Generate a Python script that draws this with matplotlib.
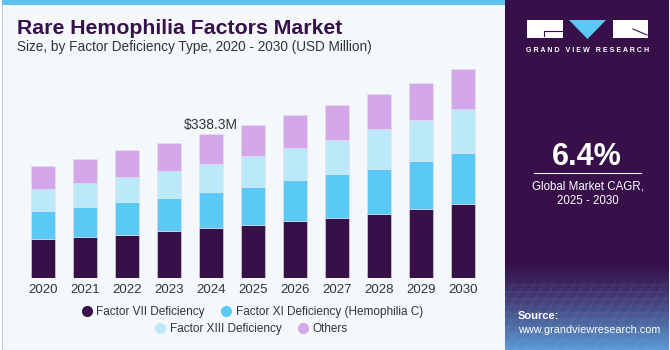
import matplotlib.pyplot as plt
import numpy as np
from matplotlib.patches import Rectangle, Polygon
from matplotlib.lines import Line2D

years = ['2020', '2021', '2022', '2023', '2024', '2025', '2026', '2027', '2028', '2029', '2030']
factor_vii = [91.4, 96.8, 102.2, 110.2, 117.2, 124.9, 133.6, 141.3, 150.0, 162.4, 173.5]
factor_xi = [67.0, 70.3, 76.6, 78.8, 85.1, 89.8, 96.8, 102.4, 106.9, 113.2, 120.2]
factor_xiii = [50.2, 57.0, 57.9, 61.9, 65.6, 72.7, 75.0, 81.1, 92.4, 95.4, 102.4]
others = [55.3, 56.3, 64.0, 65.6, 70.4, 71.3, 77.4, 80.6, 82.7, 87.4, 93.8]
series_names = ['Factor VII Deficiency', 'Factor XI Deficiency (Hemophilia C)',
                'Factor XIII Deficiency', 'Others']
colors = ['#37104a', '#5bc9f6', '#bce9f9', '#d4a7eb']
label_year = '2024'
label_text = '$338.3M'

bg = '#f4f8fb'
dark = '#37104a'
font = 'Liberation Sans'

fig = plt.figure(figsize=(6.7, 3.5), dpi=100)
fig.patch.set_facecolor('white')

# left panel background + top strip (drawn under the axes)
fig.patches.append(Rectangle((2 / 670, 0), 503 / 670, 1, transform=fig.transFigure,
                             facecolor=bg, edgecolor='#c8ccd0', lw=0.8, zorder=-2))
fig.patches.append(Rectangle((2 / 670, 1 - 5 / 350), 503 / 670, 5 / 350, transform=fig.transFigure,
                             facecolor='#5bc3ee', edgecolor='none', zorder=-1))

# right panel with gradient at the bottom
pax = fig.add_axes([505 / 670, 0, 163 / 670, 1])
grad = np.ones((350, 1, 3))
top_c = np.array([0x37, 0x10, 0x4a]) / 255
bot_c = np.array([0x5a, 0x9c, 0xd6]) / 255
for i in range(350):
    t = max(0, (i - 260) / 90)
    grad[i, 0] = top_c * (1 - t ** 1.3) + bot_c * t ** 1.3
pax.imshow(grad, aspect='auto', extent=[0, 163, 350, 0])
for k in range(-20, 30):
    pax.plot([k * 10, k * 10 + 40], [350, 282], color='white', lw=0.3, alpha=0.15)
for yy in range(285, 350, 7):
    pax.plot([0, 163], [yy, yy], color='white', lw=0.3, alpha=0.15)
pax.set_xlim(0, 163)
pax.set_ylim(350, 0)
pax.axis('off')

# logo
def px(x, y):
    return (x / 670, 1 - y / 350)

fig.patches.append(Rectangle(px(527, 38), 36 / 670, 18 / 350, transform=fig.transFigure,
                             facecolor='white', edgecolor='none', zorder=5))
fig.patches.append(Rectangle(px(613, 38), 35 / 670, 18 / 350, transform=fig.transFigure,
                             facecolor='white', edgecolor='none', zorder=5))
fig.patches.append(Polygon([px(569, 20), px(606, 20), px(587.5, 39)], closed=True,
                           transform=fig.transFigure, facecolor='#5bc9f6', edgecolor='none', zorder=5))
fig.lines.append(Line2D([544 / 670, 563 / 670], [1 - 31 / 350, 1 - 31 / 350], transform=fig.transFigure,
                        color=dark, lw=0.8, zorder=6))
fig.lines.append(Line2D([544 / 670, 544 / 670], [1 - 31 / 350, 1 - 36 / 350], transform=fig.transFigure,
                        color=dark, lw=0.8, zorder=6))
fig.lines.append(Line2D([633 / 670, 647 / 670], [1 - 29 / 350, 1 - 35 / 350], transform=fig.transFigure,
                        color=dark, lw=0.8, zorder=6))
fig.text(587.5 / 670, 1 - 51 / 350, 'G R A N D   V I E W   R E S E A R C H', color='white', fontsize=5.1,
         fontweight='bold', ha='center', va='center', family=font)

fig.text(587 / 670, 1 - 157 / 350, '6.4%', color='white', fontsize=22, fontweight='bold',
         ha='center', va='center', family=font)
fig.lines.append(Line2D([534 / 670, 641 / 670], [1 - 173 / 350, 1 - 173 / 350], transform=fig.transFigure,
                        color='white', lw=0.8, zorder=6))
fig.text(587.5 / 670, 1 - 186 / 350, 'Global Market CAGR,', color='white', fontsize=8.3,
         ha='center', va='center', family=font)
fig.text(587.5 / 670, 1 - 201 / 350, '2025 - 2030', color='white', fontsize=8.3,
         ha='center', va='center', family=font)
fig.text(518 / 670, 1 - 316 / 350, 'Source:', color='white', fontsize=8, fontweight='bold',
         ha='left', va='center', family=font)
fig.text(518 / 670, 1 - 330 / 350, 'www.grandviewresearch.com', color='white', fontsize=7.8,
         ha='left', va='center', family=font)

# titles
fig.text(17 / 670, 1 - 28 / 350, 'Rare Hemophilia Factors Market', color=dark, fontsize=15.3,
         fontweight='bold', ha='left', va='center', family=font)
fig.text(17 / 670, 1 - 47 / 350, 'Size, by Factor Deficiency Type, 2020 - 2030 (USD Million)',
         color='#333333', fontsize=9.8, ha='left', va='center', family=font)

# bar chart
ax = fig.add_axes([22 / 670, 71.7 / 350, 462 / 670, 217.6 / 350])
ax.set_facecolor('none')
x = np.arange(len(years))
bottom = np.zeros(len(years))
for name, vals, c in zip(series_names, [factor_vii, factor_xi, factor_xiii, others], colors):
    ax.bar(x, vals, width=0.58, bottom=bottom, color=c, edgecolor='#e6e0ea',
           linewidth=0.4, label=name)
    bottom += np.array(vals)

i = years.index(label_year)
ax.text(x[i], bottom[i] + 20, label_text, ha='center', va='center', fontsize=10,
        color='#333333', family=font)

ax.set_xlim(-0.5, 10.5)
ax.set_ylim(0, 510)
ax.set_xticks(x)
ax.set_xticklabels(years, fontsize=9.5, color='#333333', family=font)
ax.tick_params(axis='x', length=0, pad=4)
ax.set_yticks([])
for s in ax.spines.values():
    s.set_visible(False)

mk = [Line2D([], [], marker='o', ls='none', markersize=7, color=c) for c in colors]
leg1 = fig.legend(mk[:2], series_names[:2], loc='center', bbox_to_anchor=(252 / 670, 1 - 312 / 350),
                  ncol=2, frameon=False, handletextpad=0.3, columnspacing=1.3, handlelength=1.0,
                  prop={'family': font, 'size': 8.5})
for t in leg1.get_texts():
    t.set_color('#333333')
leg2 = fig.legend(mk[2:], series_names[2:], loc='center', bbox_to_anchor=(251 / 670, 1 - 329 / 350),
                  ncol=2, frameon=False, handletextpad=0.3, columnspacing=1.3, handlelength=1.0,
                  prop={'family': font, 'size': 8.5})
for t in leg2.get_texts():
    t.set_color('#333333')

fig.savefig('out.png', dpi=100, facecolor=fig.get_facecolor())
